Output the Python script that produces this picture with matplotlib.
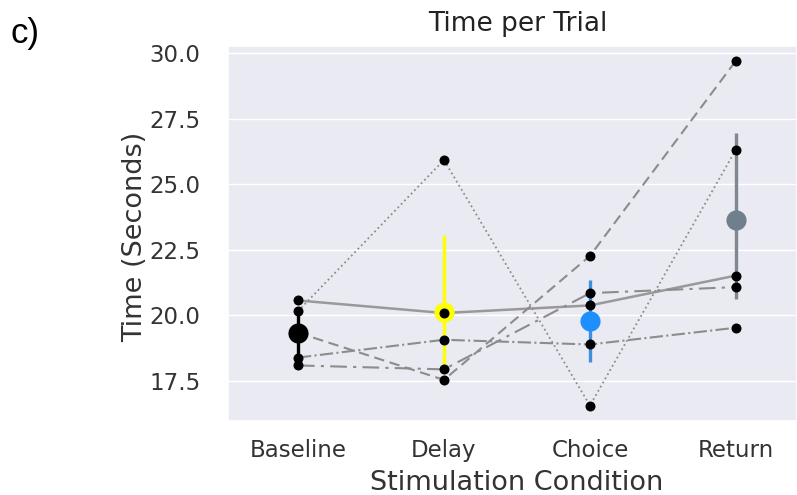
import matplotlib
matplotlib.use("Agg")
import matplotlib.pyplot as plt
import seaborn as sns
import numpy as np

# Stimulation conditions on the x axis
conditions = ["Baseline", "Delay", "Choice", "Return"]

# Time per trial (s) for each animal across the four conditions
animal_1 = [20.57, 20.09, 20.38, 21.52]
animal_2 = [20.16, 25.93, 16.56, 26.33]
animal_3 = [19.34, 17.54, 22.27, 29.72]
animal_4 = [18.39, 19.07, 18.89, 19.53]
animal_5 = [18.09, 17.94, 20.85, 21.08]

# Group mean and 95% CI per condition
ci_low = [18.28, 18.02, 18.21, 20.64]
ci_high = [20.17, 23.06, 21.34, 26.97]

animals = [animal_1, animal_2, animal_3, animal_4, animal_5]
styles = ["-", ":", (0, (5, 2.7)), "-.", (0, (8, 3, 1.5, 3))]
line_colors = ["#999999", "#8c8c8c", "#8c8c8c", "#8c8c8c", "#8c8c8c"]
line_widths = [1.8, 1.3, 1.5, 1.5, 1.5]
mean_colors = ["black", "yellow", "#1e8fff", "#6f7f8c"]
bar_colors = ["black", "yellow", "#3d8fe0", "#7f8890"]

sns.set_theme(style="darkgrid")
plt.rcParams["font.family"] = ["DejaVu Sans"]

fig = plt.figure(figsize=(7.97, 4.95), dpi=100)
ax = fig.add_axes([228 / 797, 1 - 421 / 495, (797 - 228) / 797, (421 - 46) / 495])

x = np.arange(len(conditions))
means = np.mean(np.array(animals), axis=0)

for vals, ls, c, lw in zip(animals, styles, line_colors, line_widths):
    ax.plot(x, vals, linestyle=ls, color=c, linewidth=lw, zorder=2)

for i in range(len(conditions)):
    ax.plot([x[i], x[i]], [ci_low[i], ci_high[i]], color=bar_colors[i],
            linewidth=2.4, solid_capstyle="butt", zorder=3)
    ax.plot(x[i], means[i], "o", color=mean_colors[i], markersize=14.5,
            markeredgewidth=0, zorder=4)

for vals in animals:
    ax.plot(x, vals, "o", color="black", markersize=7.2, markeredgewidth=0,
            linestyle="none", zorder=5)

ax.set_xlim(-0.479, 3.418)
ax.set_ylim(15.97, 30.28)
ax.set_yticks([17.5, 20.0, 22.5, 25.0, 27.5, 30.0])
ax.set_yticklabels(["17.5", "20.0", "22.5", "25.0", "27.5", "30.0"])
ax.set_xticks(x)
ax.set_xticklabels(conditions)
ax.tick_params(axis="y", labelsize=16.5, colors="#333333", pad=14)
ax.tick_params(axis="x", labelsize=16.5, colors="#333333", pad=7)
ax.xaxis.grid(False)
ax.set_xlabel("Stimulation Condition", fontsize=19.5, color="#333333")
ax.xaxis.set_label_coords(0.507, -0.166)
ax.xaxis.label.set_va("center")
ax.set_ylabel("Time (Seconds)", fontsize=19.5, color="#333333")
ax.yaxis.set_label_coords(-0.163, 0.492)
ax.yaxis.label.set_va("center")
ax.set_title("Time per Trial", fontsize=19, color="#222222", x=0.509, pad=11)

fig.text(11 / 797, 1 - 43 / 495, "c)", fontsize=25, family="Liberation Sans",
         va="baseline", ha="left", color="black")

fig.savefig("out.png", dpi=100)
